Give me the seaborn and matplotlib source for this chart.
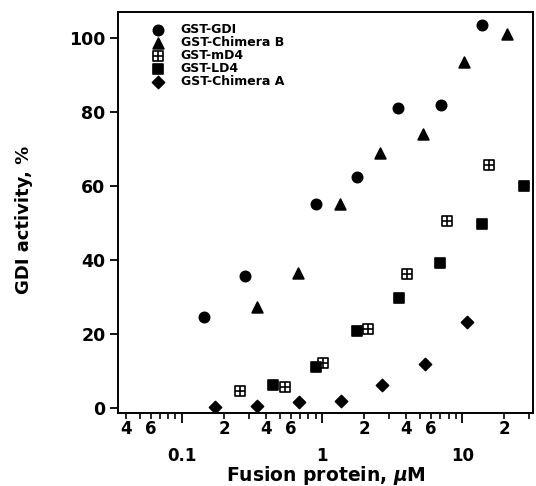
import matplotlib
matplotlib.use('Agg')
import numpy as np
import matplotlib.pyplot as plt
import matplotlib.ticker as mticker
from matplotlib.path import Path
import seaborn as sns

# data (x in uM, y in %)
gdi_x = [0.144, 0.282, 0.906, 1.78, 3.49, 7.08, 13.9]
gdi_y = [24.6, 35.7, 55.0, 62.5, 81.0, 82.0, 103.5]
chimb_x = [0.343, 0.674, 1.34, 2.6, 5.27, 10.3, 21.0]
chimb_y = [27.3, 36.5, 55.0, 69.0, 74.0, 93.5, 101.0]
md4_x = [0.26, 0.54, 1.02, 2.13, 4.05, 7.8, 15.6]
md4_y = [4.5, 5.7, 12.2, 21.4, 36.2, 50.5, 65.7]
ld4_x = [0.447, 0.906, 1.78, 3.55, 6.97, 13.9, 27.7]
ld4_y = [6.2, 11.0, 20.8, 29.7, 39.2, 49.7, 60.0]
chima_x = [0.172, 0.343, 0.685, 1.37, 2.68, 5.44, 10.9]
chima_y = [0.3, 0.5, 1.6, 1.9, 6.2, 11.9, 23.2]

sns.set_style('ticks')
plt.rcParams['font.family'] = ['DejaVu Sans']
plt.rcParams['font.weight'] = 'bold'
plt.rcParams['mathtext.fontset'] = 'custom'
plt.rcParams['mathtext.rm'] = 'DejaVu Sans:bold'
plt.rcParams['mathtext.it'] = 'DejaVu Sans:italic:bold'
for k in ('text.color', 'axes.labelcolor', 'xtick.color', 'ytick.color',
          'axes.edgecolor'):
    plt.rcParams[k] = 'black'

# boxed square with a cross in it
box = Path([(-1, -1), (1, -1), (1, 1), (-1, 1), (-1, -1),
            (0, -1), (0, 1), (-1, 0), (1, 0)],
           [Path.MOVETO, Path.LINETO, Path.LINETO, Path.LINETO, Path.CLOSEPOLY,
            Path.MOVETO, Path.LINETO, Path.MOVETO, Path.LINETO])

fig = plt.figure(figsize=(5.36, 4.86), dpi=100)
ax = fig.add_axes([118 / 536, 1 - 413 / 486, 415 / 536, 401 / 486])

series = [
    ('GST-GDI', gdi_x, gdi_y, 'o', 'black', 55),
    ('GST-Chimera B', chimb_x, chimb_y, '^', 'black', 60),
    ('GST-mD4', md4_x, md4_y, box, 'white', 50),
    ('GST-LD4', ld4_x, ld4_y, 's', 'black', 50),
    ('GST-Chimera A', chima_x, chima_y, 'D', 'black', 38),
]
for name, xs, ys, m, fc, s in series:
    sns.scatterplot(x=xs, y=ys, marker=m, color=fc, edgecolor='black',
                    linewidth=1.2, s=s, label=name, ax=ax, zorder=3)

ax.set_xscale('log')
ax.set_xlim(0.035, 32)
ax.set_ylim(-1.35, 107)
ax.set_yticks([0, 20, 40, 60, 80, 100])

ax.xaxis.set_major_locator(mticker.FixedLocator([0.1, 1, 10]))
ax.xaxis.set_major_formatter(mticker.FixedFormatter(['0.1', '1', '10']))
minors = [k * 10.0 ** e for e in (-2, -1, 0, 1) for k in range(2, 10)]
minors = [v for v in minors if 0.035 <= v <= 32]
ax.xaxis.set_minor_locator(mticker.FixedLocator(minors))


def minor_fmt(v, pos):
    lead = int(round(v / 10 ** np.floor(np.log10(v))))
    return str(lead) if lead in (2, 4, 6) else ''


ax.xaxis.set_minor_formatter(mticker.FuncFormatter(minor_fmt))

for sp in ax.spines.values():
    sp.set_linewidth(1.4)
ax.tick_params(axis='x', which='major', length=7.5, width=1.3, pad=17,
               labelsize=12)
ax.tick_params(axis='x', which='minor', length=4.3, width=1.2, pad=1,
               labelsize=12)
ax.tick_params(axis='y', which='major', length=6, width=1.3, pad=3,
               labelsize=12.5)

ax.set_xlabel(r'Fusion protein, $\mu$M', fontsize=13.5, fontweight='bold')
ax.xaxis.set_label_coords(0.5, -0.128)
ax.set_ylabel('GDI activity, %', fontsize=13, fontweight='bold')
ax.yaxis.set_label_coords(-0.205, 0.481)

leg = ax.legend(loc='upper left', bbox_to_anchor=(0.082, 0.972), frameon=False,
                fontsize=9, handlelength=1.0, handletextpad=1.3,
                labelspacing=0.0, borderpad=0, borderaxespad=0)
for t in leg.get_texts():
    t.set_fontweight('bold')

fig.savefig('out.png', dpi=100)
